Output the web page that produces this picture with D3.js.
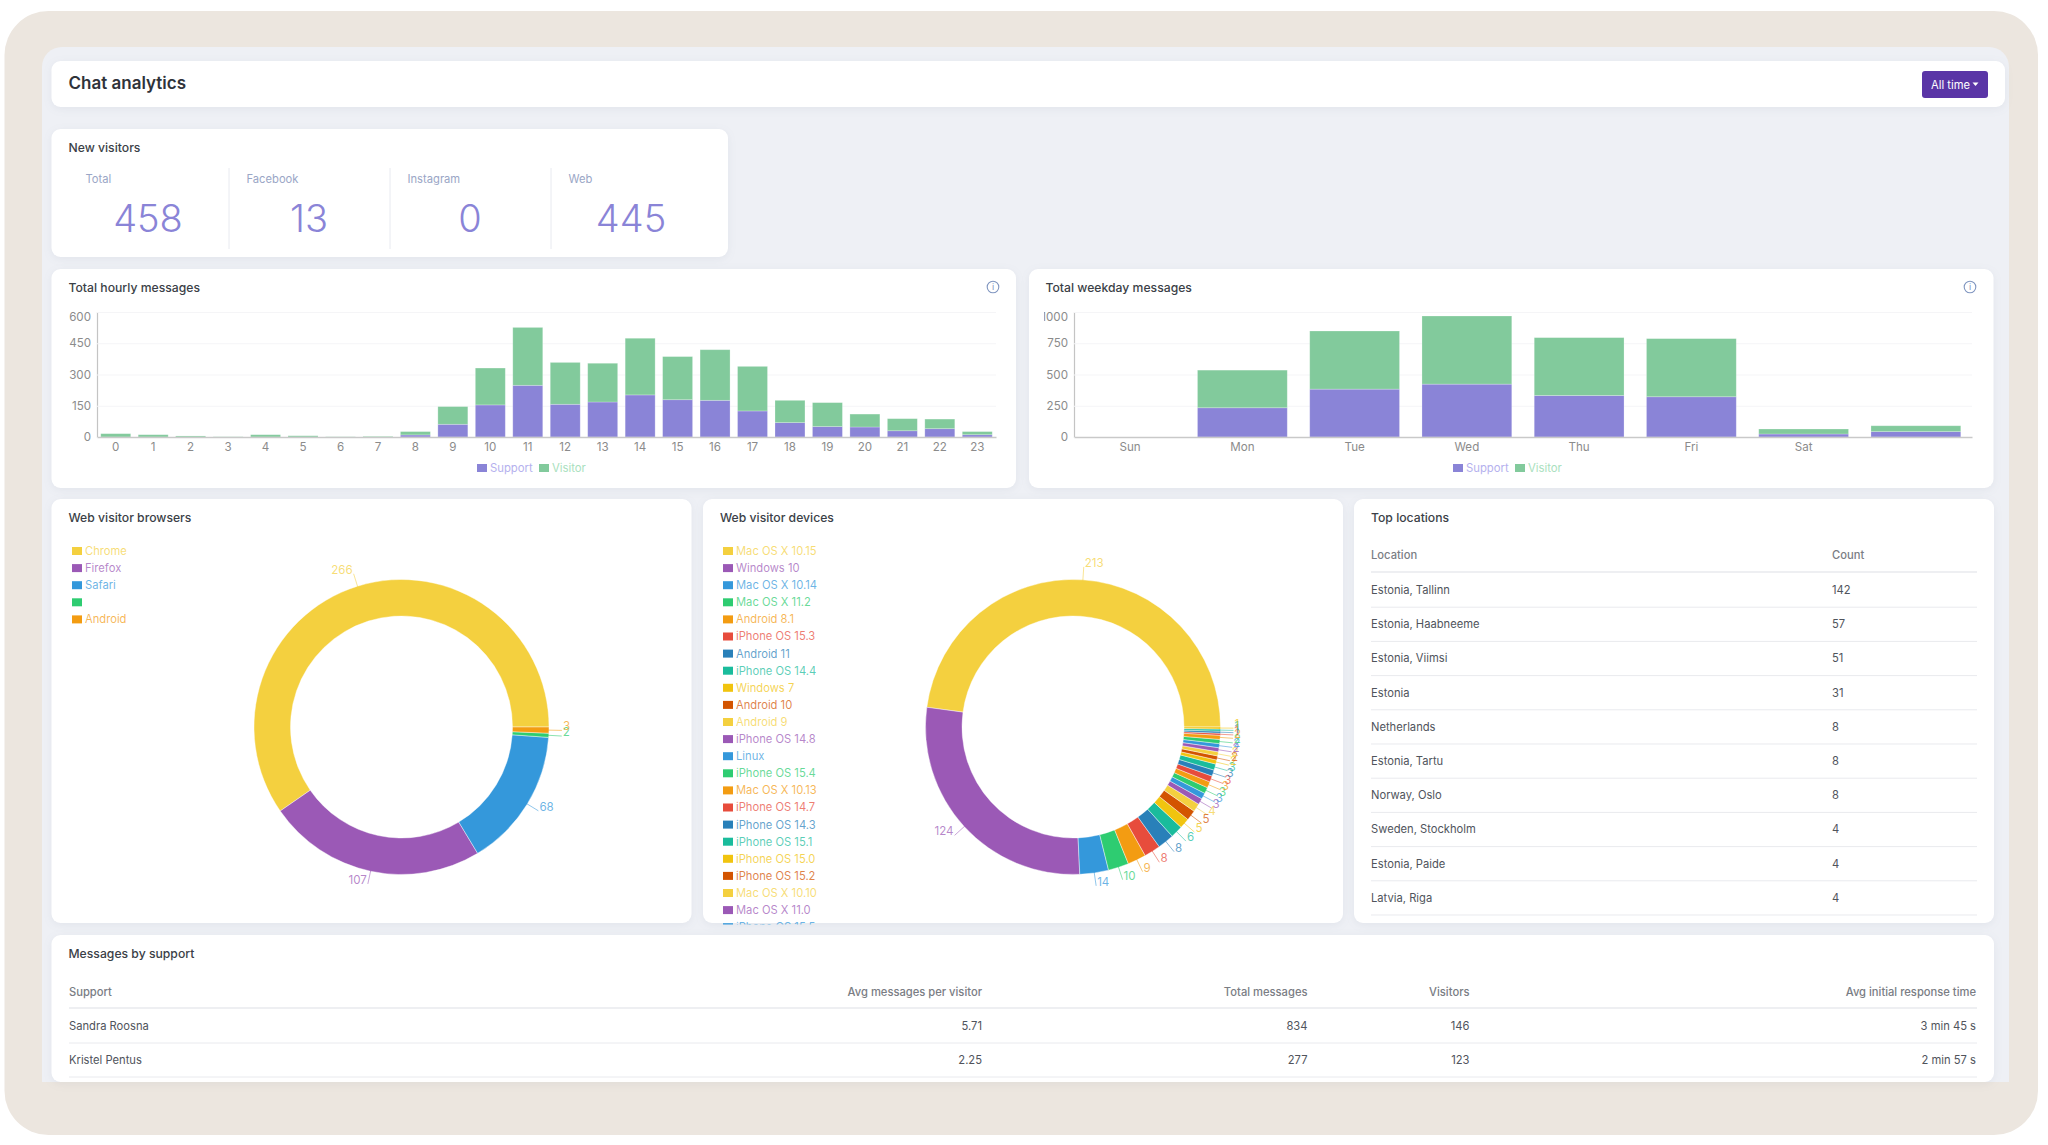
<!DOCTYPE html>
<html>
<head>
<meta charset="utf-8">
<title>Chat analytics</title>
<script src="https://cdn.jsdelivr.net/npm/d3@7/dist/d3.min.js"></script>
<style>
  html, body { margin: 0; padding: 0; background: #fff; }
  svg { display: block; font-family: Inter, "Noto Sans", sans-serif; }
  .card { fill: #fff; filter: drop-shadow(0 2px 4px rgba(70, 80, 120, .07)); }
  .title { font-size: 12.2px; font-weight: 500; fill: #3b3f47; }
  .axis text { font-size: 11.6px; fill: #8b8b8b; font-family: Inter, "Noto Sans", sans-serif; }
  .th { font-size: 11.2px; font-weight: 500; fill: #7a7d84; }
  .td { font-size: 11.2px; fill: #50545c; }
</style>
</head>
<body>
<div id="chart"></div>
<script>
const statLabels = ["Total", "Facebook", "Instagram", "Web"];
const statValues = [458, 13, 0, 445];

const hours = ["0","1","2","3","4","5","6","7","8","9","10","11","12","13","14","15","16","17","18","19","20","21","22","23"];
const hourlySupport = [0,0,0,0,0,0,0,0,10,61,154,248,157,168,202,179,176,125,69,50,48,30,40,11];
const hourlyVisitor = [16,11,5,1,11,6,1,3,16,85,177,278,201,186,272,207,243,214,107,115,62,58,46,15];
const hourlyTicks = [0,150,300,450,600];

const weekdays = ["Sun","Mon","Tue","Wed","Thu","Fri","Sat",""];
const weekdaySupport = [0,234,383,423,332,322,24,43];
const weekdayVisitor = [0,301,465,545,463,465,40,47];
const weekdayTicks = [0,250,500,750,1000];

const palette = ["#f4d03f","#9b59b6","#3498db","#2ecc71","#f39c12","#e74c3c","#2980b9","#1abc9c","#f1c40f","#d35400"];

const browserNames = ["Chrome","Firefox","Safari","","Android"];
const browserValues = [266,107,68,2,3];

const deviceNames = ["Mac OS X 10.15","Windows 10","Mac OS X 10.14","Mac OS X 11.2","Android 8.1","iPhone OS 15.3","Android 11","iPhone OS 14.4","Windows 7","Android 10","Android 9","iPhone OS 14.8","Linux","iPhone OS 15.4","Mac OS X 10.13","iPhone OS 14.7","iPhone OS 14.3","iPhone OS 15.1","iPhone OS 15.0","iPhone OS 15.2","Mac OS X 10.10","Mac OS X 11.0","iPhone OS 15.5"];
const deviceValues = [213,124,14,10,9,8,8,6,5,5,4,3,3,3,3,3,3,3,2,2,2,2,2,2,2,1,1,1,1];

const locationNames = ["Estonia, Tallinn","Estonia, Haabneeme","Estonia, Viimsi","Estonia","Netherlands","Estonia, Tartu","Norway, Oslo","Sweden, Stockholm","Estonia, Paide","Latvia, Riga"];
const locationCounts = [142,57,51,31,8,8,8,4,4,4];

const supportNames = ["Sandra Roosna","Kristel Pentus"];
const supportAvg = ["5.71","2.25"];
const supportTotal = [834,277];
const supportVisitors = [146,123];
const supportResponse = ["3 min 45 s","2 min 57 s"];

const purple = "#8a84d7", green = "#82ca9c";

const svg = d3.select("#chart").append("svg").attr("width", 2048).attr("height", 1145);
const defs = svg.append("defs");

// outer frame, the inner panel is cut off flat at the bottom
svg.append("rect").attr("x", 4.5).attr("y", 11).attr("width", 2033.5).attr("height", 1124).attr("rx", 44).attr("fill", "#ece6df");
svg.append("path").attr("fill", "#eef0f5")
  .attr("d", "M42 1082V67a20 20 0 0 1 20-20H1989a20 20 0 0 1 20 20V1082Z");

function card(x, y, w, h, title, titleX) {
  svg.append("rect").attr("class", "card").attr("x", x).attr("y", y).attr("width", w).attr("height", h).attr("rx", 9);
  if (title) {
    svg.append("text").attr("class", "title").attr("x", titleX).attr("y", y + 18.5).attr("dy", ".35em").text(title);
  }
}

function infoIcon(x, y) {
  svg.append("circle").attr("cx", x).attr("cy", y).attr("r", 5.8).attr("fill", "none").attr("stroke", "#8096c0").attr("stroke-width", 1.1);
  svg.append("text").attr("x", x).attr("y", y).attr("dy", ".36em").attr("text-anchor", "middle")
    .attr("font-size", 9).attr("fill", "#8096c0").text("i");
}

// header
card(51.5, 61, 1953.5, 46);
svg.append("text").attr("x", 68.5).attr("y", 83).attr("dy", ".35em")
  .attr("font-size", 17).attr("font-weight", 600).attr("fill", "#2f333a").text("Chat analytics");
svg.append("rect").attr("x", 1922).attr("y", 71).attr("width", 66).attr("height", 27).attr("rx", 3).attr("fill", "#5a35a6");
svg.append("text").attr("x", 1931).attr("y", 85).attr("dy", ".35em")
  .attr("font-size", 11.2).attr("fill", "#fff").text("All time");
svg.append("path").attr("d", "M1972.5 82.5h6l-3 3.5Z").attr("fill", "#fff");

// new visitors
card(51.5, 129, 676.5, 128, "New visitors", 68.5);
const statX = d3.scaleBand().domain(statLabels).range([68, 712]);
const stats = svg.append("g").selectAll("g").data(statLabels).enter().append("g")
  .attr("transform", d => `translate(${statX(d)},0)`);
stats.append("text").attr("x", 17.5).attr("y", 179).attr("dy", ".35em")
  .attr("font-size", 11.2).attr("fill", "#9aa6c6").text(d => d);
stats.append("text").attr("x", statX.bandwidth() / 2 - 0.5).attr("y", 218).attr("dy", ".36em").attr("text-anchor", "middle")
  .attr("font-size", 38).attr("font-weight", 300).attr("fill", purple).text((d, i) => statValues[i]);
stats.filter((d, i) => i > 0).append("line")
  .attr("x1", 0).attr("x2", 0).attr("y1", 168).attr("y2", 249).attr("stroke", "#e8eaf0");

function stackedChart(opts) {
  const g = svg.append("g");
  const clipId = "clip" + opts.left;
  defs.append("clipPath").attr("id", clipId).append("rect")
    .attr("x", opts.clipX).attr("y", opts.top - 10).attr("width", opts.right - opts.clipX + 10).attr("height", 170);
  g.attr("clip-path", `url(#${clipId})`);

  const x = d3.scaleBand().domain(opts.categories).range([opts.left, opts.right]).paddingInner(opts.padding).paddingOuter(opts.padding / 2);
  const y = d3.scaleLinear().domain([0, d3.max(opts.ticks)]).range([opts.bottom, opts.top]);

  const yAxis = g.append("g").attr("class", "axis").attr("transform", `translate(${opts.left},0)`)
    .call(d3.axisLeft(y).tickValues(opts.ticks).tickFormat(d3.format("d")).tickSize(-(opts.right - opts.left)).tickPadding(6));
  yAxis.selectAll(".tick line").attr("stroke", "#f5f5f7");
  yAxis.select(".domain").attr("stroke", "#c4c4c4").attr("stroke-width", 1.2);
  yAxis.selectAll(".tick text").filter(d => d === d3.max(opts.ticks)).attr("dy", "0.75em");

  const rows = opts.categories.map((c, i) => ({ cat: c, Support: opts.support[i], Visitor: opts.visitor[i] }));
  const stack = d3.stack().keys(["Support", "Visitor"])(rows);
  const colors = { Support: purple, Visitor: green };
  g.selectAll("g.layer").data(stack).enter().append("g").attr("class", "layer")
    .attr("fill", d => colors[d.key])
    .attr("stroke", "#fff").attr("stroke-opacity", .3).attr("stroke-width", .8)
    .selectAll("rect").data(d => d).enter().append("rect")
    .attr("x", d => x(d.data.cat))
    .attr("y", d => y(d[1]))
    .attr("width", x.bandwidth())
    .attr("height", d => y(d[0]) - y(d[1]));

  const xAxis = g.append("g").attr("class", "axis").attr("transform", `translate(0,${opts.bottom})`)
    .call(d3.axisBottom(x).tickSize(0).tickPadding(6));
  xAxis.select(".domain").attr("stroke", "#c9c9c9").attr("stroke-width", 1.5);

  // legend
  const legend = svg.append("g").attr("transform", `translate(${opts.legendX},468)`);
  legend.append("rect").attr("x", 0).attr("y", -4).attr("width", 10).attr("height", 8).attr("fill", purple);
  legend.append("text").attr("x", 13).attr("dy", ".35em").attr("font-size", 11.3).attr("fill", "#b5b1ee").text("Support");
  legend.append("rect").attr("x", 62).attr("y", -4).attr("width", 10).attr("height", 8).attr("fill", green);
  legend.append("text").attr("x", 75).attr("dy", ".35em").attr("font-size", 11.3).attr("fill", "#a9dfbe").text("Visitor");
}

card(51.5, 269, 964.5, 219, "Total hourly messages", 68.5);
infoIcon(993, 287);
stackedChart({ categories: hours, support: hourlySupport, visitor: hourlyVisitor, ticks: hourlyTicks,
  left: 97, right: 996, top: 312, bottom: 437, padding: 0.2, clipX: 69, legendX: 477 });

card(1029, 269, 964.5, 219, "Total weekday messages", 1045.5);
infoIcon(1970, 287);
stackedChart({ categories: weekdays, support: weekdaySupport, visitor: weekdayVisitor, ticks: weekdayTicks,
  left: 1074, right: 1972, top: 312, bottom: 437, padding: 0.2, clipX: 1044, legendX: 1453 });

function donut(cardX, cx, names, values) {
  const color = i => palette[i % palette.length];
  const clipId = "clipCard" + cardX;
  defs.append("clipPath").attr("id", clipId).append("rect")
    .attr("x", cardX).attr("y", 499).attr("width", 640).attr("height", 425.5);

  const g = svg.append("g").attr("clip-path", `url(#${clipId})`);
  const legend = g.selectAll("g.leg").data(names).enter().append("g").attr("class", "leg")
    .attr("transform", (d, i) => `translate(${cardX + 20},${551 + i * 17.1})`);
  legend.append("rect").attr("y", -4).attr("width", 10).attr("height", 8).attr("fill", (d, i) => color(i));
  legend.append("text").attr("x", 13).attr("dy", ".35em").attr("font-size", 11.2)
    .attr("fill", (d, i) => color(i)).attr("fill-opacity", .72).text(d => d);

  // starts at three o'clock and runs counter clockwise
  const pie = d3.pie().sort(null).startAngle(Math.PI / 2).endAngle(Math.PI / 2 - 2 * Math.PI);
  const arcs = pie(values);
  const arc = d3.arc().innerRadius(111).outerRadius(147.5);
  const plot = g.append("g").attr("transform", `translate(${cx},727)`);
  plot.selectAll("path").data(arcs).enter().append("path")
    .attr("d", arc).attr("fill", d => color(d.index)).attr("stroke", "#fff").attr("stroke-opacity", .6).attr("stroke-width", .7);

  const point = (d, r) => {
    const a = (d.startAngle + d.endAngle) / 2;
    return [Math.sin(a) * r, -Math.cos(a) * r];
  };
  plot.selectAll("line").data(arcs).enter().append("line")
    .attr("x1", d => point(d, 146)[0]).attr("y1", d => point(d, 146)[1])
    .attr("x2", d => point(d, 160.5)[0]).attr("y2", d => point(d, 160.5)[1])
    .attr("stroke", d => color(d.index)).attr("stroke-opacity", .55);
  plot.selectAll("text").data(arcs).enter().append("text")
    .attr("x", d => point(d, 160.5)[0] + (point(d, 1)[0] < 0 ? -1 : 1))
    .attr("y", d => point(d, 160.5)[1])
    .attr("text-anchor", d => point(d, 1)[0] < 0 ? "end" : "start")
    .attr("font-size", 11.6).attr("fill", d => color(d.index)).attr("fill-opacity", .72)
    .text(d => d.value);
}

card(51.5, 499, 640, 424, "Web visitor browsers", 68.5);
donut(52, 401.5, browserNames, browserValues);

card(703, 499, 640, 424, "Web visitor devices", 720);
donut(703, 1073, deviceNames, deviceValues);

// top locations
card(1354, 499, 640, 424, "Top locations", 1371);
const rowY = d3.scaleBand().domain(locationNames).range([573, 915]);
svg.append("text").attr("class", "th").attr("x", 1371).attr("y", 555).attr("dy", ".35em").text("Location");
svg.append("text").attr("class", "th").attr("x", 1832).attr("y", 555).attr("dy", ".35em").text("Count");
svg.append("line").attr("x1", 1371).attr("x2", 1977).attr("y1", 572).attr("y2", 572).attr("stroke", "#eeeff2").attr("stroke-width", 2);
const locRows = svg.append("g").selectAll("g").data(locationNames).enter().append("g")
  .attr("transform", d => `translate(0,${rowY(d)})`);
locRows.append("text").attr("class", "td").attr("x", 1371).attr("y", rowY.bandwidth() / 2).attr("dy", ".35em").text(d => d);
locRows.append("text").attr("class", "td").attr("x", 1832).attr("y", rowY.bandwidth() / 2).attr("dy", ".35em").text((d, i) => locationCounts[i]);
locRows.append("line").attr("x1", 1371).attr("x2", 1977).attr("y1", rowY.bandwidth()).attr("y2", rowY.bandwidth()).attr("stroke", "#e9eaee");

// messages by support, cut off at the panel edge
card(51.5, 935, 1942.5, 147, "Messages by support", 68.5);
const columns = [
  { head: "Support", x: 69, anchor: "start", values: supportNames },
  { head: "Avg messages per visitor", x: 982, anchor: "end", values: supportAvg },
  { head: "Total messages", x: 1307.5, anchor: "end", values: supportTotal },
  { head: "Visitors", x: 1469.5, anchor: "end", values: supportVisitors },
  { head: "Avg initial response time", x: 1976, anchor: "end", values: supportResponse }
];
const supY = d3.scaleBand().domain(supportNames).range([1009, 1077]);
const col = svg.append("g").selectAll("g").data(columns).enter().append("g");
col.append("text").attr("class", "th").attr("x", d => d.x).attr("y", 992).attr("dy", ".35em").attr("text-anchor", d => d.anchor).text(d => d.head);
col.selectAll("text.td").data(d => d.values.map(v => ({ v: v, x: d.x, anchor: d.anchor }))).enter().append("text").attr("class", "td")
  .attr("x", d => d.x).attr("y", (d, i) => supY(supportNames[i]) + supY.bandwidth() / 2).attr("dy", ".35em").attr("text-anchor", d => d.anchor).text(d => d.v);
svg.append("line").attr("x1", 69).attr("x2", 1977).attr("y1", 1008).attr("y2", 1008).attr("stroke", "#eeeff2").attr("stroke-width", 2);
svg.append("g").selectAll("line").data(supportNames).enter().append("line")
  .attr("x1", 69).attr("x2", 1977).attr("y1", d => supY(d) + supY.bandwidth()).attr("y2", d => supY(d) + supY.bandwidth()).attr("stroke", "#e9eaee");
</script>
</body>
</html>
